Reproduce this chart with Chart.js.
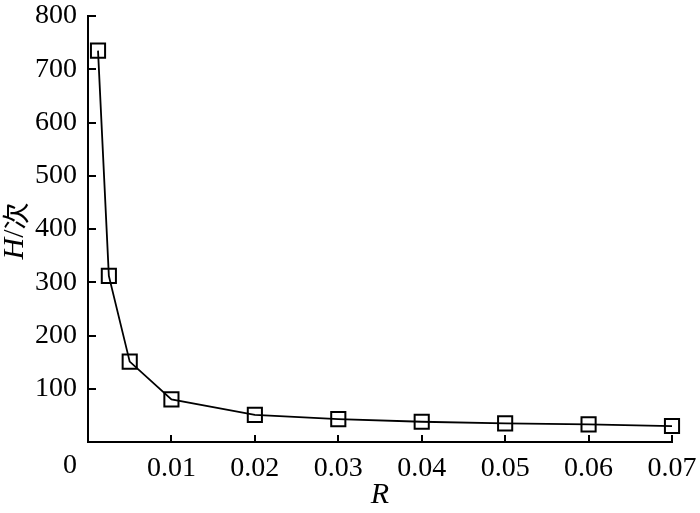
<!DOCTYPE html>
<html>
<head>
<meta charset="utf-8">
<script src="https://cdn.jsdelivr.net/npm/chart.js@4/dist/chart.umd.min.js"></script>
<style>
  html, body { margin: 0; padding: 0; background: #fff; }
  #wrap { width: 700px; height: 513px; }
</style>
</head>
<body>
<div id="wrap"><canvas id="c" width="700" height="513"></canvas></div>
<script>
// Data
const rValues = [0.0012, 0.0025, 0.005, 0.01, 0.02, 0.03, 0.04, 0.05, 0.06, 0.07];
const hValues = [735, 312, 151, 80, 51, 43, 38, 35, 33, 30];
const xTicks = [0, 0.01, 0.02, 0.03, 0.04, 0.05, 0.06, 0.07];
const yTicks = [100, 200, 300, 400, 500, 600, 700, 800];
const xTitle = 'R';
const yTitleItalic = 'H';
const yTitleRest = '/次';

const SERIF = "'Liberation Serif', 'Times New Roman', serif";
const FS = 28;
const TFS = 30;

const points = rValues.map((r, i) => ({ x: r, y: hValues[i] }));

const decoPlugin = {
  id: 'deco',
  afterDatasetsDraw(chart) {
    const ctx = chart.ctx;
    const xs = chart.scales.x, ys = chart.scales.y;
    const ca = chart.chartArea;
    ctx.save();
    ctx.strokeStyle = '#000';
    ctx.lineWidth = 2;
    // inward tick marks
    yTicks.forEach(v => {
      const py = Math.round(ys.getPixelForValue(v));
      ctx.beginPath();
      ctx.moveTo(ca.left, py);
      ctx.lineTo(ca.left + 8, py);
      ctx.stroke();
    });
    xTicks.forEach(v => {
      if (v === 0) return;
      const px = Math.round(xs.getPixelForValue(v));
      ctx.beginPath();
      ctx.moveTo(px, ca.bottom);
      ctx.lineTo(px, ca.bottom - 7);
      ctx.stroke();
    });
    // origin label
    ctx.fillStyle = '#000';
    ctx.font = FS + 'px ' + SERIF;
    ctx.textAlign = 'center';
    ctx.textBaseline = 'top';
    ctx.fillText('0', xs.getPixelForValue(0) - 18, ca.bottom + 10);
    // x title
    ctx.font = 'italic ' + TFS + 'px ' + SERIF;
    ctx.textBaseline = 'middle';
    ctx.fillText(xTitle, (ca.left + ca.right) / 2, 495);
    // y title (mixed styles)
    ctx.translate(15, 231);
    ctx.rotate(-Math.PI / 2);
    const fItal = 'italic ' + TFS + 'px ' + SERIF;
    const fSlash = TFS + 'px ' + SERIF;
    const fCJK = (TFS - 3) + "px 'Noto Sans CJK SC', sans-serif";
    ctx.font = fItal; const w1 = ctx.measureText(yTitleItalic).width;
    ctx.font = fSlash; const w2 = ctx.measureText('/').width;
    ctx.font = fCJK; const w3 = ctx.measureText(yTitleRest.slice(1)).width;
    let x0 = -(w1 + w2 + w3) / 2;
    ctx.textAlign = 'left';
    ctx.font = fItal; ctx.fillText(yTitleItalic, x0, 0); x0 += w1;
    ctx.font = fSlash; ctx.fillText('/', x0, 0); x0 += w2;
    ctx.font = fCJK; ctx.fillText(yTitleRest.slice(1), x0, 1);
    ctx.restore();
  }
};

new Chart(document.getElementById('c'), {
  type: 'line',
  data: {
    datasets: [{
      data: points,
      borderColor: '#000',
      borderWidth: 1.8,
      tension: 0,
      pointStyle: 'rect',
      pointRadius: 10,
      pointHoverRadius: 10,
      pointBorderWidth: 2,
      pointBorderColor: '#000',
      pointBackgroundColor: 'rgba(0,0,0,0)',
      fill: false,
      clip: false
    }]
  },
  options: {
    responsive: false,
    animation: false,
    devicePixelRatio: 1,
    layout: { padding: { left: 0, right: 28, top: 16, bottom: 0 } },
    plugins: { legend: { display: false }, tooltip: { enabled: false } },
    scales: {
      x: {
        type: 'linear',
        min: 0, max: 0.07,
        afterFit(s) { s.height = 71; s.paddingLeft = 0; s.paddingRight = 0; },
        afterBuildTicks(s) { s.ticks = xTicks.map(v => ({ value: v })); },
        border: { display: true, color: '#000', width: 2 },
        grid: { display: false, drawTicks: false },
        ticks: {
          padding: 10,
          color: '#000',
          font: { family: SERIF, size: FS },
          maxRotation: 0,
          callback: v => v === 0 ? '' : v.toFixed(2)
        }
      },
      y: {
        type: 'linear',
        min: 0, max: 800,
        afterFit(s) { s.width = 88; s.paddingTop = 0; s.paddingBottom = 0; },
        afterBuildTicks(s) { s.ticks = yTicks.map(v => ({ value: v })); },
        border: { display: true, color: '#000', width: 2 },
        grid: { display: false, drawTicks: false },
        ticks: {
          padding: 11,
          color: '#000',
          font: { family: SERIF, size: FS },
          callback: v => String(v)
        }
      }
    }
  },
  plugins: [decoPlugin]
});
</script>
</body>
</html>
